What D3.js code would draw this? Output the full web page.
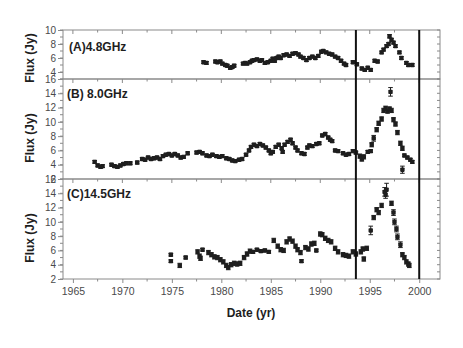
<!DOCTYPE html>
<html>
<head>
<meta charset="utf-8">
<script src="https://cdn.jsdelivr.net/npm/d3@7"></script>
<style>
  body { margin: 0; background: #fff; }
  svg { display: block; font-family: "Liberation Sans", Arial, sans-serif; }
</style>
</head>
<body>
<div id="chart"></div>
<script>
// [year, flux, error]
var seriesA = [
  [1978.2,5.4,.2],[1978.5,5.3,.2],[1979.4,5.5,.2],[1979.6,5.4,.2],[1979.9,5.5,.2],[1980.1,5.2,.2],
  [1980.4,5.0,.2],[1980.6,4.9,.2],[1980.9,4.6,.2],[1981.1,4.7,.2],[1981.3,4.9,.2],[1982.2,5.2,.2],
  [1982.4,5.3,.2],[1982.6,5.2,.2],[1982.9,5.4,.2],[1983.1,5.6,.2],[1983.3,5.7,.2],[1983.6,5.8,.2],
  [1983.9,5.6,.2],[1984.1,5.7,.2],[1984.4,5.3,.2],[1984.7,5.4,.2],[1985.0,5.6,.2],[1985.2,5.9,.2],
  [1985.4,5.6,.2],[1985.6,6.0,.2],[1985.8,6.2,.2],[1986.0,6.0,.2],[1986.3,6.4,.2],[1986.6,6.5,.2],
  [1986.9,6.3,.2],[1987.2,6.6,.2],[1987.5,6.7,.2],[1987.8,6.5,.2],[1988.0,6.2,.2],[1988.3,6.0,.2],
  [1988.6,5.7,.2],[1988.9,6.0,.2],[1989.2,6.2,.2],[1989.5,6.0,.2],[1989.8,6.3,.2],[1990.1,6.9,.2],
  [1990.3,7.0,.2],[1990.6,6.8,.2],[1990.9,6.6,.2],[1991.2,6.5,.2],[1991.5,6.2,.2],[1991.8,6.0,.2],
  [1992.1,5.6,.2],[1992.4,5.2,.2],[1992.6,5.0,.2],[1993.3,5.4,.2],[1993.7,5.1,.2],[1994.2,4.5,.2],
  [1994.5,4.3,.2],[1994.8,4.6,.2],[1995.1,4.3,.2],[1995.5,5.6,.2],[1995.8,5.5,.2],[1996.2,6.8,.2],
  [1996.4,7.2,.2],[1996.7,7.7,.2],[1996.9,8.0,.2],[1997.0,9.1,.25],[1997.2,8.6,.2],[1997.4,8.2,.2],
  [1997.6,7.7,.2],[1998.0,6.8,.2],[1998.2,6.0,.2],[1998.7,5.3,.2],[1998.9,5.0,.2],[1999.3,5.0,.2]
];
var seriesB = [
  [1967.2,4.4,.2],[1967.5,3.9,.2],[1967.8,3.7,.2],[1968.0,3.8,.2],[1968.9,4.0,.2],[1969.2,3.8,.2],
  [1969.5,3.7,.2],[1969.8,3.9,.2],[1970.1,4.1,.2],[1970.4,4.2,.2],[1970.8,4.2,.2],[1971.5,4.3,.2],
  [1972.0,4.8,.2],[1972.3,4.7,.2],[1972.6,5.0,.2],[1972.9,4.8,.2],[1973.2,4.9,.2],[1973.5,5.0,.2],
  [1973.8,4.8,.2],[1974.1,5.2,.2],[1974.4,5.4,.2],[1974.7,5.5,.2],[1975.0,5.3,.2],[1975.3,5.5,.2],
  [1975.6,5.3,.2],[1975.9,5.0,.2],[1976.2,5.1,.2],[1976.6,5.6,.2],[1977.5,5.7,.2],[1977.8,5.8,.2],
  [1978.1,5.6,.2],[1978.5,5.3,.2],[1978.8,5.2,.2],[1979.1,5.4,.2],[1979.5,5.2,.2],[1979.8,5.1,.2],
  [1980.1,5.2,.2],[1980.5,4.9,.2],[1980.8,4.8,.2],[1981.1,4.6,.2],[1981.4,4.5,.2],[1981.8,4.7,.2],
  [1982.1,4.8,.2],[1982.5,5.4,.2],[1982.8,6.0,.2],[1983.0,6.5,.2],[1983.3,6.8,.2],[1983.6,6.6,.2],
  [1983.9,6.9,.2],[1984.2,6.7,.2],[1984.5,6.4,.2],[1984.8,6.0,.2],[1985.0,5.6,.2],[1985.2,5.8,.2],
  [1985.5,6.5,.2],[1985.8,6.8,.2],[1986.1,6.3,.2],[1986.2,5.8,.2],[1986.4,6.8,.2],[1986.7,7.2,.2],
  [1987.0,7.5,.2],[1987.2,7.0,.2],[1987.5,6.4,.2],[1987.7,6.0,.2],[1988.1,5.6,.2],[1988.4,5.5,.2],
  [1988.7,6.4,.2],[1988.9,6.7,.2],[1989.2,6.6,.2],[1989.6,6.9,.2],[1989.9,7.0,.2],[1990.2,8.1,.2],
  [1990.5,8.3,.2],[1990.8,7.8,.2],[1991.0,7.5,.2],[1991.2,7.3,.2],[1991.5,6.0,.2],[1991.8,5.9,.2],
  [1992.3,5.6,.2],[1992.6,5.4,.2],[1992.9,5.5,.2],[1993.3,5.9,.2],[1993.6,5.7,.2],[1994.0,5.2,.3],
  [1994.2,4.8,.3],[1994.4,5.1,.3],[1994.8,5.8,.2],[1995.1,5.9,.2],[1995.2,6.8,.3],[1995.4,7.7,.4],
  [1995.7,8.9,.3],[1995.9,9.8,.3],[1996.2,10.4,.3],[1996.4,11.6,.3],[1996.6,11.9,.3],[1996.8,11.5,.3],
  [1997.0,11.8,.3],[1997.1,14.2,.6],[1997.2,11.6,.3],[1997.4,10.3,.3],[1997.6,9.7,.3],[1997.8,8.5,.3],
  [1998.1,7.0,.3],[1998.3,6.3,.3],[1998.3,3.3,.5],[1998.5,5.3,.2],[1998.8,5.0,.2],[1999.1,4.7,.2],
  [1999.3,4.4,.2]
];
var seriesC = [
  [1974.9,5.4,.2],[1974.9,4.5,.2],[1975.8,3.9,.3],[1976.4,5.0,.2],[1977.6,5.8,.3],[1977.8,5.2,.3],
  [1977.9,4.9,.3],[1978.1,6.1,.2],[1978.7,5.7,.3],[1979.0,5.4,.3],[1979.3,5.1,.3],[1979.6,5.0,.3],
  [1979.9,4.7,.3],[1980.2,4.4,.3],[1980.5,3.9,.3],[1980.7,3.6,.3],[1981.0,4.0,.3],[1981.3,4.2,.3],
  [1981.6,4.1,.3],[1981.9,4.2,.3],[1982.3,5.0,.3],[1982.6,5.5,.3],[1982.9,5.9,.3],[1983.2,5.8,.2],
  [1983.6,6.1,.2],[1984.0,5.9,.2],[1984.4,6.0,.2],[1984.8,5.8,.2],[1985.3,7.4,.3],[1985.7,6.6,.3],
  [1986.0,6.1,.3],[1986.3,6.0,.3],[1986.6,7.2,.3],[1986.9,7.6,.3],[1987.2,7.3,.3],[1987.5,6.6,.3],
  [1987.7,6.1,.3],[1988.0,5.7,.3],[1988.1,4.5,.2],[1988.5,6.4,.3],[1988.8,6.2,.3],[1989.1,6.9,.3],
  [1989.4,7.0,.3],[1989.6,6.0,.2],[1990.0,8.3,.3],[1990.2,8.2,.3],[1990.5,7.7,.3],[1990.8,7.4,.3],
  [1991.1,7.2,.3],[1991.5,6.3,.3],[1991.8,5.8,.3],[1992.3,5.4,.3],[1992.6,5.3,.3],[1992.9,5.2,.3],
  [1993.3,5.8,.3],[1993.6,5.5,.3],[1994.1,5.8,.3],[1994.3,6.2,.3],[1994.4,4.8,.3],[1994.7,6.3,.3],
  [1995.1,8.8,.6],[1995.4,10.6,.3],[1995.7,11.7,.3],[1995.9,11.3,.3],[1996.2,12.3,.3],[1996.5,14.2,.6],
  [1996.6,13.8,.5],[1996.7,14.5,.9],[1997.2,12.6,.3],[1997.4,11.3,.4],[1997.5,10.0,.4],[1997.7,9.0,.4],
  [1997.8,7.9,.4],[1998.1,6.8,.4],[1998.3,5.4,.3],[1998.5,5.0,.3],[1998.7,4.4,.3],[1998.9,4.1,.3],
  [1999.0,3.9,.3]
];

var panelLabels = ["(A)4.8GHz", "(B) 8.0GHz", "(C)14.5GHz"];
var panelDomains = [[3, 10], [2, 16], [2, 16]];
var panelTicks = [[4, 6, 8, 10], [2, 4, 6, 8, 10, 12, 14, 16], [2, 4, 6, 8, 10, 12, 14, 16]];
var yearTicks = [1965, 1970, 1975, 1980, 1985, 1990, 1995, 2000];
var markerYears = [1993.6, 2000.0];

var width = 463, height = 348;
var left = 63, right = 440;
var panelTops = [30, 79, 179], panelBottoms = [79, 179, 279];
var allSeries = [seriesA, seriesB, seriesC];
var ink = "#1e1e1e", frame = "#8a8a8a", tickText = "#4a4a4a";

var svg = d3.select("#chart").append("svg").attr("width", width).attr("height", height);
svg.append("rect").attr("width", width).attr("height", height).attr("fill", "#fff");

var x = d3.scaleLinear().domain([1964, 2002.1]).range([left, right]);
var minorYears = d3.range(1965, 2002.1, 2.5);

allSeries.forEach(function (data, i) {
  var top = panelTops[i], bottom = panelBottoms[i];
  var y = d3.scaleLinear().domain(panelDomains[i]).range([bottom, top]);
  var g = svg.append("g");
  var units = d3.range(panelDomains[i][0], panelDomains[i][1] + 0.01, 1);

  // left axis, ticks outward
  var yl = g.append("g").attr("transform", "translate(" + left + ",0)")
    .call(d3.axisLeft(y).tickValues(panelTicks[i]).tickSize(5).tickPadding(2).tickFormat(d3.format("d")));
  yl.select(".domain").remove();
  yl.selectAll("line").attr("stroke", frame);
  yl.selectAll("text").attr("fill", tickText).style("font-size", "10px");
  g.selectAll(".minorL").data(units).enter().append("line")
    .attr("x1", left - 3).attr("x2", left).attr("y1", y).attr("y2", y).attr("stroke", frame);
  // right side ticks, inward
  g.selectAll(".minorR").data(units).enter().append("line")
    .attr("x1", right - 3).attr("x2", right).attr("y1", y).attr("y2", y).attr("stroke", frame);
  // top ticks, inward
  g.selectAll(".topT").data(minorYears).enter().append("line")
    .attr("x1", x).attr("x2", x).attr("y1", top)
    .attr("y2", function (d) { return top + (d % 5 === 0 ? 4 : 2.5); }).attr("stroke", frame);

  g.append("rect").attr("x", left).attr("y", top).attr("width", right - left).attr("height", bottom - top)
    .attr("fill", "none").attr("stroke", frame).attr("stroke-width", 1);

  // error bars
  var pts = g.selectAll(".pt").data(data).enter().append("g");
  pts.append("line").attr("x1", function (d) { return x(d[0]); }).attr("x2", function (d) { return x(d[0]); })
    .attr("y1", function (d) { return y(d[1] - d[2]); }).attr("y2", function (d) { return y(d[1] + d[2]); })
    .attr("stroke", ink).attr("stroke-width", 1);
  [1, -1].forEach(function (s) {
    pts.append("line").attr("x1", function (d) { return x(d[0]) - 2.3; }).attr("x2", function (d) { return x(d[0]) + 2.3; })
      .attr("y1", function (d) { return y(d[1] + s * d[2]); }).attr("y2", function (d) { return y(d[1] + s * d[2]); })
      .attr("stroke", ink).attr("stroke-width", 1);
  });
  pts.append("rect").attr("x", function (d) { return x(d[0]) - 2.2; }).attr("y", function (d) { return y(d[1]) - 2.2; })
    .attr("width", 4.4).attr("height", 4.4).attr("rx", 0.8).attr("fill", ink);

  g.append("text").attr("x", 67 + (i === 0 ? 2 : 0)).attr("y", [51, 98, 198][i])
    .style("font-size", "12px").style("font-weight", "bold").attr("fill", ink).text(panelLabels[i]);

  g.append("text").attr("transform", "translate(34," + [58, 138, 238][i] + ") rotate(-90)")
    .attr("text-anchor", "middle").style("font-size", "12px").style("font-weight", "bold")
    .attr("fill", ink).text("Flux (Jy)");
});

// bottom axis
var xa = svg.append("g").attr("transform", "translate(0," + panelBottoms[2] + ")")
  .call(d3.axisBottom(x).tickValues(yearTicks).tickSize(4).tickPadding(5).tickFormat(d3.format("d")));
xa.select(".domain").remove();
xa.selectAll("line").attr("stroke", frame);
xa.selectAll("text").attr("fill", tickText).style("font-size", "10.5px");
svg.selectAll(".minorB").data(minorYears.filter(function (d) { return d % 5 !== 0; })).enter().append("line")
  .attr("x1", x).attr("x2", x).attr("y1", panelBottoms[2]).attr("y2", panelBottoms[2] + 2.5).attr("stroke", frame);

// vertical markers
svg.selectAll(".vmark").data(markerYears).enter().append("line")
  .attr("x1", x).attr("x2", x).attr("y1", panelTops[0]).attr("y2", panelBottoms[2])
  .attr("stroke", "#111").attr("stroke-width", 2);

svg.append("text").attr("x", 251).attr("y", 317).attr("text-anchor", "middle")
  .style("font-size", "12px").style("font-weight", "bold").attr("fill", ink).text("Date (yr)");
</script>
</body>
</html>
